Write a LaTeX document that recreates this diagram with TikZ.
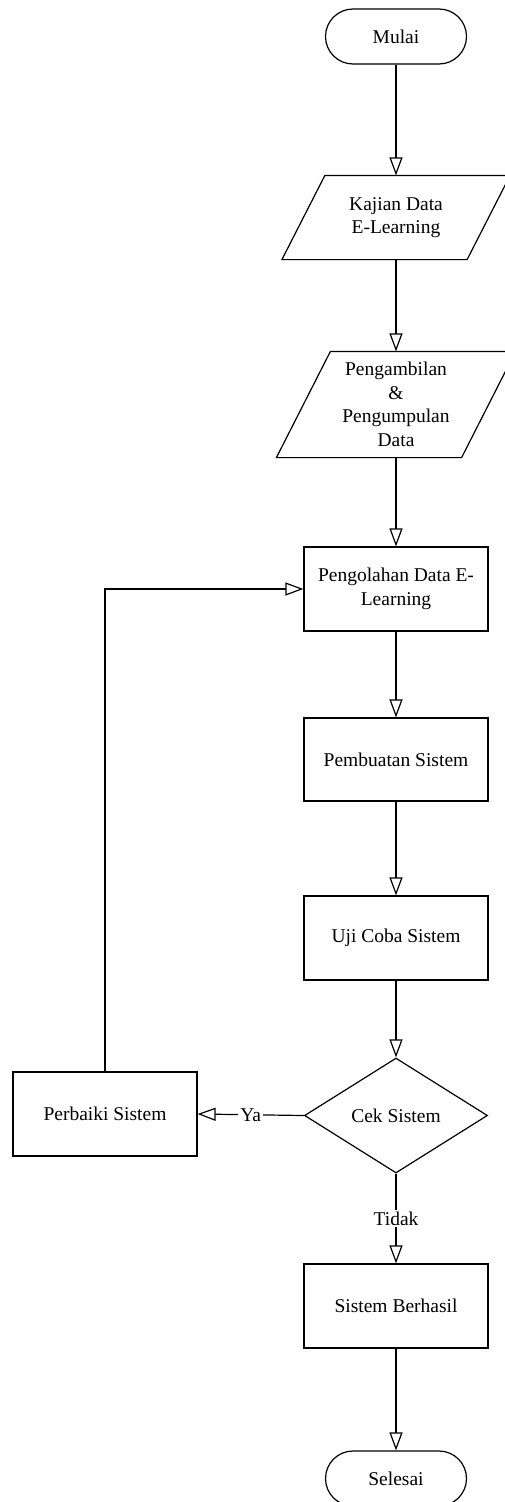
\documentclass[tikz,border=0pt]{standalone}
\usepackage{fontspec}
\setmainfont{Liberation Serif}
\usetikzlibrary{arrows.meta,shapes.geometric}
\begin{document}
\begin{tikzpicture}[x=1pt,y=-1pt, line width=1.2pt,
  every node/.style={font=\fontsize{19.5}{23.5}\selectfont, align=center, inner sep=0pt},
  box/.style={draw, minimum width=184pt, minimum height=84pt},
  term/.style={draw, rounded corners=27.5pt, minimum width=141pt, minimum height=55pt},
  io/.style={minimum width=184pt},
  dec/.style={draw, diamond, minimum width=183pt, minimum height=115pt},
  flow/.style={-{Triangle[open,length=18pt,width=13pt]}},
  lbl/.style={fill=white, inner sep=2pt}]
\useasboundingbox (0,0) rectangle (504,1502);

\node[term] (mulai) at (396,36.5) {Mulai};
\node[io, minimum height=83pt] (kajian) at (396,217.5) {Kajian Data\\E-Learning};
\draw ([xshift=21.5pt]kajian.north west) -- ([xshift=21.5pt]kajian.north east)
  -- ([xshift=-21.5pt]kajian.south east) -- ([xshift=-21.5pt]kajian.south west) -- cycle;
\node[io, minimum height=105pt] (ambil) at (396,404.5) {Pengambilan\\\&\\Pengumpulan\\Data};
\draw ([xshift=27pt]ambil.north west) -- ([xshift=27pt]ambil.north east)
  -- ([xshift=-27pt]ambil.south east) -- ([xshift=-27pt]ambil.south west) -- cycle;
\node[box] (olah) at (396,589) {Pengolahan Data E-\\Learning};
\node[box, minimum height=83pt] (buat) at (396,759.5) {Pembuatan Sistem};
\node[box] (uji) at (396,938) {Uji Coba Sistem};
\node[dec] (cek) at (396,1115.5) {Cek Sistem};
\node[box] (perbaiki) at (105,1114) {Perbaiki Sistem};
\node[box] (berhasil) at (396,1306) {Sistem Berhasil};
\node[term] (selesai) at (396,1478.5) {Selesai};

\draw[flow] (mulai.south) -- (kajian.north);
\draw[flow] (kajian.south) -- (ambil.north);
\draw[flow] (ambil.south) -- (olah.north);
\draw[flow] (olah.south) -- (buat.north);
\draw[flow] (buat.south) -- (uji.north);
\draw[flow] (uji.south) -- (cek.north);
\draw[flow] (cek.west) -- node[lbl] {Ya} (perbaiki.east);
\draw[flow] (cek.south) -- node[lbl] {Tidak} (berhasil.north);
\draw[flow] (perbaiki.north) |- (olah.west);
\draw[flow] (berhasil.south) -- (selesai.north);
\end{tikzpicture}
\end{document}
